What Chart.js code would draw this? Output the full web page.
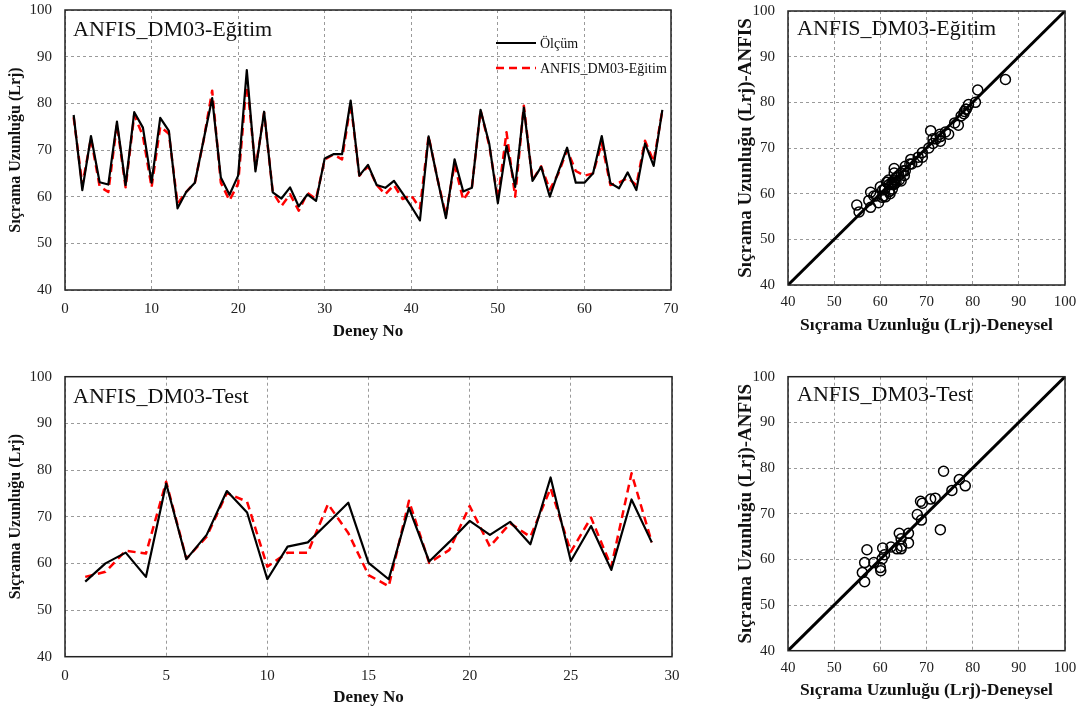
<!DOCTYPE html>
<html>
<head>
<meta charset="utf-8">
<script src="https://cdn.jsdelivr.net/npm/chart.js@4"></script>
<style>
body { margin: 0; background: #fff; width: 1084px; height: 710px; overflow: hidden; position: relative; }
canvas { position: absolute; }
</style>
</head>
<body>
<canvas id="egitimLine" width="700" height="350" style="left:0px;top:0px"></canvas>
<canvas id="testLine" width="700" height="350" style="left:0px;top:360px"></canvas>
<canvas id="egitimScatter" width="364" height="350" style="left:720px;top:0px"></canvas>
<canvas id="testScatter" width="364" height="350" style="left:720px;top:360px"></canvas>
<script>
const serif = '"Liberation Serif", "Times New Roman", serif';
Chart.defaults.font.family = serif;
Chart.defaults.color = '#222';

// Eğitim (training) set, 69 experiments
const olcumEgitim = [77.5, 61.4, 73, 63.1, 62.6, 76.1, 62.5, 78.1, 74.8, 63,
    76.9, 74.1, 57.5, 61, 63, 72.1, 81.1, 64.1, 60.4, 64.5,
    87.1, 65.4, 78.2, 60.9, 59.6, 62, 57.9, 60.5, 59.1, 68.2,
    69.1, 69.1, 80.6, 64.5, 66.8, 62.5, 61.9, 63.4, 60.7, 57.9,
    54.9, 72.9, 64, 55.4, 68, 61.1, 61.9, 78.6, 71.4, 58.6,
    70.9, 62.1, 79.1, 63.4, 66.4, 60, 65.4, 70.5, 63, 63,
    65, 73, 62.9, 61.8, 65.2, 61.4, 71.4, 66.6, 78.6];
const anfisEgitim = [77, 62.5, 72.5, 62.2, 61, 75.5, 62, 77.5, 73, 62,
    75, 73.5, 58.5, 61, 63, 72, 82.7, 63, 59.2, 62.8,
    85, 66, 78, 61, 58, 60.5, 57, 60.8, 59.5, 68,
    69, 68, 80, 64.5, 66.5, 62.5, 60.5, 62.5, 59.5, 60.3,
    57.5, 73, 64, 56, 67, 59.3, 62, 78.5, 71, 59.5,
    73.8, 60, 79.5, 63.5, 66.5, 61.5, 65, 70, 65.5, 64.5,
    65, 71.5, 62.5, 63, 64, 62.5, 72, 67.5, 78.5];

// Test set, 29 experiments
const olcumTest = [56.1, 60, 62.3, 57.1, 77.1, 60.9, 66.1, 75.5, 70.9, 56.6,
    63.6, 64.5, 68.7, 73, 60.1, 56.6, 71.9, 60.4, 64.6, 69.1,
    66.1, 68.9, 64.1, 78.4, 60.5, 68, 58.6, 73.7, 64.5];
const anfisTest = [57.1, 58.2, 62.7, 62.1, 77.5, 61, 65.7, 75.1, 73.2, 59.3,
    62.3, 62.3, 72.7, 66.5, 57.5, 55.1, 73.4, 60.1, 62.9, 72.3,
    63.6, 68.6, 65.7, 76.1, 62.5, 69.8, 59.3, 79.3, 64.5];

const valueRange = [40, 100];   // y axis of line charts, both axes of scatter
const deneyEgitimMax = 70;
const deneyTestMax = 30;

function seriesPoints(values) {
    return values.map((v, i) => ({ x: i + 1, y: v }));
}
function pairPoints(xs, ys) {
    return xs.map((v, i) => ({ x: v, y: ys[i] }));
}

// frame around the plot area
const framePlugin = {
    id: 'frame',
    afterDatasetsDraw(chart) {
        const a = chart.chartArea, ctx = chart.ctx;
        ctx.save();
        ctx.strokeStyle = '#222';
        ctx.lineWidth = 1.5;
        ctx.strokeRect(a.left, a.top, a.right - a.left, a.bottom - a.top);
        ctx.restore();
    }
};

// title text written inside the plot area
const innerTitle = {
    id: 'innerTitle',
    afterDraw(chart, args, opts) {
        const a = chart.chartArea, ctx = chart.ctx;
        ctx.save();
        ctx.fillStyle = '#111';
        ctx.font = '22px ' + serif;
        ctx.textBaseline = 'alphabetic';
        ctx.fillText(opts.text, a.left + opts.dx, a.top + opts.dy);
        ctx.restore();
    }
};

// small legend in the upper right of the training chart
const lineLegend = {
    id: 'lineLegend',
    afterDraw(chart, args, opts) {
        if (!opts.show) return;
        const a = chart.chartArea, ctx = chart.ctx;
        ctx.save();
        chart.data.datasets.forEach((ds, i) => {
            const y = a.top + opts.dy + i * 25;
            ctx.beginPath();
            ctx.strokeStyle = ds.borderColor;
            ctx.lineWidth = ds.borderWidth;
            ctx.setLineDash(ds.borderDash || []);
            ctx.moveTo(a.left + opts.dx, y);
            ctx.lineTo(a.left + opts.dx + 40, y);
            ctx.stroke();
            ctx.setLineDash([]);
            ctx.fillStyle = '#111';
            ctx.font = '14px ' + serif;
            ctx.textBaseline = 'middle';
            ctx.fillText(ds.label, a.left + opts.dx + 44, y + 1);
        });
        ctx.restore();
    }
};

function gridAxis(extra) {
    return Object.assign({
        grid: { color: '#9a9a9a', lineWidth: 1, drawTicks: false },
        border: { display: false, dash: [3, 3] }
    }, extra);
}

// keep tick-label overflow from pushing the plot area around
function noOverflow(s) {
    s.paddingTop = 0; s.paddingBottom = 0; s.paddingLeft = 0; s.paddingRight = 0;
}

function makeLine(id, olcum, anfis, xMax, xStep, title, area, xTitleY, showLegend) {
    const H = 350, W = 700;
    const padB = H - (xTitleY + 17 * 1.2 / 2);
    new Chart(document.getElementById(id), {
        type: 'line',
        data: {
            datasets: [{
                label: 'Ölçüm',
                data: seriesPoints(olcum),
                borderColor: '#000',
                borderWidth: 2.2,
                borderJoinStyle: 'round',
                pointRadius: 0,
                tension: 0
            }, {
                label: 'ANFIS_DM03-Eğitim',
                data: seriesPoints(anfis),
                borderColor: '#ff0000',
                borderWidth: 2.5,
                borderDash: [8, 5],
                borderJoinStyle: 'round',
                pointRadius: 0,
                tension: 0
            }]
        },
        options: {
            responsive: false,
            animation: false,
            layout: { padding: { left: 0, top: area.top, right: W - area.right, bottom: padB } },
            plugins: {
                legend: { display: false },
                tooltip: { enabled: false },
                innerTitle: { text: title, dx: 8, dy: 26 },
                lineLegend: { show: showLegend, dx: 431, dy: 33 }
            },
            scales: {
                x: gridAxis({
                    type: 'linear',
                    min: 0, max: xMax,
                    ticks: { stepSize: xStep, padding: 10, font: { size: 15 } },
                    title: { display: true, text: 'Deney No', font: { size: 17, weight: 'bold' }, padding: 0, color: '#111' },
                    afterFit(s) { s.height = H - area.bottom - padB; noOverflow(s); }
                }),
                y: gridAxis({
                    min: valueRange[0], max: valueRange[1],
                    ticks: { stepSize: 10, padding: 13, font: { size: 15 } },
                    title: { display: true, text: 'Sıçrama Uzunluğu (Lrj)', font: { size: 16, weight: 'bold' }, padding: { top: 6.4, bottom: 0 }, color: '#111' },
                    afterFit(s) { s.width = area.left; noOverflow(s); }
                })
            }
        },
        plugins: [framePlugin, innerTitle, lineLegend]
    });
}

function makeScatter(id, olcum, anfis, title, area, xTitleY) {
    const H = 350, W = 364;
    const padB = H - (xTitleY + 17.5 * 1.2 / 2);
    new Chart(document.getElementById(id), {
        type: 'scatter',
        data: {
            datasets: [{
                type: 'line',
                label: '1:1',
                data: pairPoints(valueRange, valueRange),
                borderColor: '#000',
                borderWidth: 3,
                pointRadius: 0
            }, {
                label: title,
                data: pairPoints(olcum, anfis),
                pointStyle: 'circle',
                pointRadius: 5,
                borderColor: '#000',
                borderWidth: 1.5,
                backgroundColor: 'rgba(0,0,0,0)'
            }]
        },
        options: {
            responsive: false,
            animation: false,
            layout: { padding: { left: 0, top: area.top, right: W - area.right, bottom: padB } },
            plugins: {
                legend: { display: false },
                tooltip: { enabled: false },
                innerTitle: { text: title, dx: 9, dy: 24 }
            },
            scales: {
                x: gridAxis({
                    type: 'linear',
                    min: valueRange[0], max: valueRange[1],
                    ticks: { stepSize: 10, padding: 8, font: { size: 15 } },
                    title: { display: true, text: 'Sıçrama Uzunluğu (Lrj)-Deneysel', font: { size: 17.5, weight: 'bold' }, padding: 0, color: '#111' },
                    afterFit(s) { s.height = H - area.bottom - padB; noOverflow(s); }
                }),
                y: gridAxis({
                    min: valueRange[0], max: valueRange[1],
                    ticks: { stepSize: 10, padding: 13, font: { size: 15 } },
                    title: { display: true, text: 'Sıçrama Uzunluğu (Lrj)-ANFIS', font: { size: 19, weight: 'bold' }, padding: { top: 14.6, bottom: 0 }, color: '#111' },
                    afterFit(s) { s.width = area.left; noOverflow(s); }
                })
            }
        },
        plugins: [framePlugin, innerTitle]
    });
}

makeLine('egitimLine', olcumEgitim, anfisEgitim, deneyEgitimMax, 10, 'ANFIS_DM03-Eğitim',
    { left: 65, top: 10, right: 671, bottom: 290 }, 332, true);
makeLine('testLine', olcumTest, anfisTest, deneyTestMax, 5, 'ANFIS_DM03-Test',
    { left: 65, top: 16.7, right: 672, bottom: 296.7 }, 338, false);
makeScatter('egitimScatter', olcumEgitim, anfisEgitim, 'ANFIS_DM03-Eğitim',
    { left: 68, top: 11, right: 345, bottom: 285 }, 325);
makeScatter('testScatter', olcumTest, anfisTest, 'ANFIS_DM03-Test',
    { left: 68, top: 16.7, right: 345, bottom: 290.7 }, 330.7);
</script>
</body>
</html>
